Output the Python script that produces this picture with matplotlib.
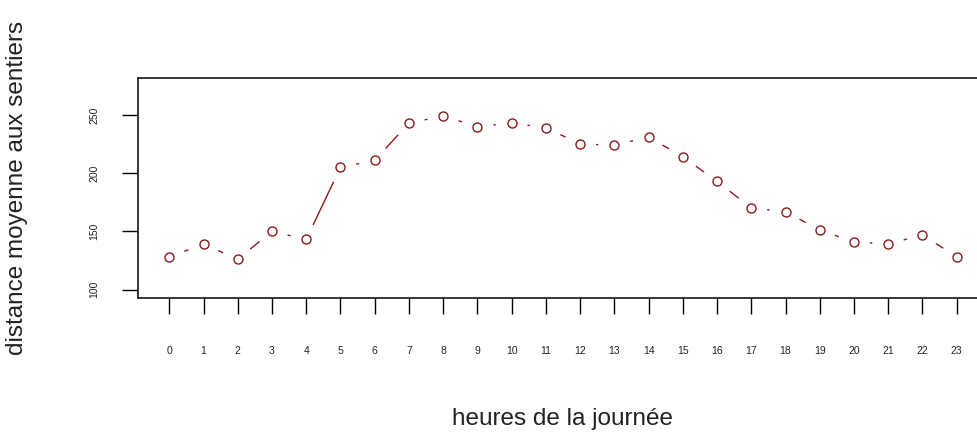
import matplotlib
matplotlib.use("Agg")
import matplotlib.pyplot as plt
import numpy as np

plt.rcParams["font.family"] = ["Liberation Sans", "DejaVu Sans"]

# mean distance to trails for each hour of the day
heures = list(range(24))
distance = [128, 139, 126, 150, 143, 205, 211, 243, 249, 240, 243, 239,
            225, 224, 231, 214, 193, 170, 167, 151, 141, 139, 147, 128]
yticks = [100, 150, 200, 250]

col = "#8b1a1a"

fig = plt.figure(figsize=(9.78, 4.32), dpi=100, facecolor="white")
ax = fig.add_axes([0.1409, 0.3109, 0.8695, 0.5093])
ax.set_xlim(-0.92, 23.92)
ax.set_ylim(93, 282)

# points
ax.plot(heures, distance, linestyle="none", marker="o", markersize=6.5,
        markerfacecolor="none", markeredgecolor=col, markeredgewidth=1.0,
        zorder=3)

# R style type="b": segments that stop short of each point
gap = 16.0  # pixels
pts = ax.transData.transform(np.column_stack([heures, distance]))
inv = ax.transData.inverted()
for p0, p1 in zip(pts[:-1], pts[1:]):
    d = p1 - p0
    L = np.hypot(*d)
    if L <= 2 * gap:
        continue
    u = d / L
    a = inv.transform(p0 + u * gap)
    b = inv.transform(p1 - u * gap)
    ax.plot([a[0], b[0]], [a[1], b[1]], color=col, linewidth=1.0,
            solid_capstyle="butt", zorder=2)

for s in ax.spines.values():
    s.set_linewidth(1.1)
    s.set_color("black")

ax.set_xticks(heures)
ax.set_xticklabels([str(h) for h in heures])
ax.set_yticks(yticks)
ax.set_yticklabels([str(v) for v in yticks], rotation=90, va="center")

ax.tick_params(axis="x", direction="out", length=11.5, width=1.0,
               pad=23, labelsize=7.5, labelcolor="#222222")
ax.tick_params(axis="y", direction="out", length=11.5, width=1.0,
               pad=16, labelsize=7.5, labelcolor="#222222")

ax.set_xlabel("heures de la journée", fontsize=17.5, color="#222222")
ax.xaxis.set_label_coords(0.5, -0.551)
ax.xaxis.label.set_va("center")

ax.set_ylabel("distance moyenne aux sentiers", fontsize=17.5, color="#222222")
ax.yaxis.set_label_coords(-0.142, 0.5)
ax.yaxis.label.set_va("center")

fig.savefig("out.png", dpi=100, facecolor="white")
